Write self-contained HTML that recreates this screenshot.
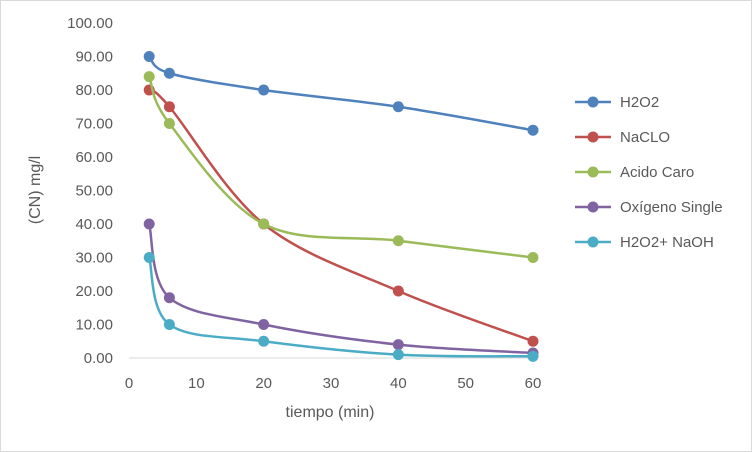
<!DOCTYPE html>
<html><head><meta charset="utf-8"><style>
html,body{margin:0;padding:0;background:#fff}
svg{display:block;font-family:"Liberation Sans",sans-serif}
</style></head><body>
<svg id="chart" width="752" height="452">
<rect x="0.5" y="0.5" width="751" height="451" fill="#fff" stroke="#d9d9d9"/>
<g id="axes"></g><g id="series"></g><g id="legend"></g>
<text x="330" y="417" text-anchor="middle" font-size="16" fill="#595959">tiempo (min)</text>
<text transform="translate(40,190) rotate(-90)" text-anchor="middle" font-size="16" fill="#595959">(CN) mg/l</text>
</svg>
<script>
const xs=[3,6,20,40,60];
const seriesNames=["H2O2","NaCLO","Acido Caro","Oxígeno Single","H2O2+ NaOH"];
const h2o2=[90,85,80,75,68];
const naclo=[80,75,40,20,5];
const caro=[84,70,40,35,30];
const oxig=[40,18,10,4,1.5];
const naoh=[30,10,5,1,0.5];
const xTicks=[0,10,20,30,40,50,60];
const yTicks=[0,10,20,30,40,50,60,70,80,90,100];
const colors=["#4F81BD","#C0504D","#9BBB59","#8064A2","#4BACC6"];
const all=[h2o2,naclo,caro,oxig,naoh];
const NS="http://www.w3.org/2000/svg";
const X=v=>129+v*(533-129)/60;
const Y=v=>358-v*(358-23)/100;
function mk(t,a,p){const e=document.createElementNS(NS,t);for(const k in a)e.setAttribute(k,a[k]);p.appendChild(e);return e;}
const axes=document.getElementById('axes');
const xl=mk('line',{x1:129,x2:533,y1:358,y2:358,stroke:'#d9d9d9'},axes);


xTicks.forEach(t=>{
 const e=mk('text',{x:X(t),y:388,'text-anchor':'middle','font-size':15,fill:'#595959'},axes);e.textContent=t;
 
 
});
yTicks.forEach(t=>{
 const e=mk('text',{x:113,y:Y(t)+5,'text-anchor':'end','font-size':15,fill:'#595959'},axes);e.textContent=t.toFixed(2);
 
 
});
function smooth(pts){
 let d=`M${pts[0][0]},${pts[0][1]}`;
 for(let i=0;i<pts.length-1;i++){
  const p0=pts[i-1]||pts[i],p1=pts[i],p2=pts[i+1],p3=pts[i+2]||p2;
  const c1=[p1[0]+(p2[0]-p0[0])/6,p1[1]+(p2[1]-p0[1])/6];
  const c2=[p2[0]-(p3[0]-p1[0])/6,p2[1]-(p3[1]-p1[1])/6];
  d+=` C${c1[0]},${c1[1]} ${c2[0]},${c2[1]} ${p2[0]},${p2[1]}`;
 }
 return d;
}
const sg=document.getElementById('series');
all.forEach((vals,si)=>{
 const pts=vals.map((v,i)=>[X(xs[i]),Y(v)]);
 const p=mk('path',{d:smooth(pts),fill:'none',stroke:colors[si],'stroke-width':2.5},sg);
 
 
 pts.forEach(q=>{
  const c=mk('circle',{cx:q[0],cy:q[1],r:5.5,fill:colors[si]},sg);
  
  
 });
});
const lg=document.getElementById('legend');
const ly=[102,137,172,207,242];
seriesNames.forEach((n,i)=>{
 const l=mk('line',{x1:575,x2:611,y1:ly[i],y2:ly[i],stroke:colors[i],'stroke-width':2.5},lg);
 
 
 const c=mk('circle',{cx:593,cy:ly[i],r:5.5,fill:colors[i]},lg);
 
 
 const t=mk('text',{x:620,y:ly[i]+5,'font-size':15,fill:'#595959'},lg);t.textContent=n;
 
 
});
</script>
</body></html>
